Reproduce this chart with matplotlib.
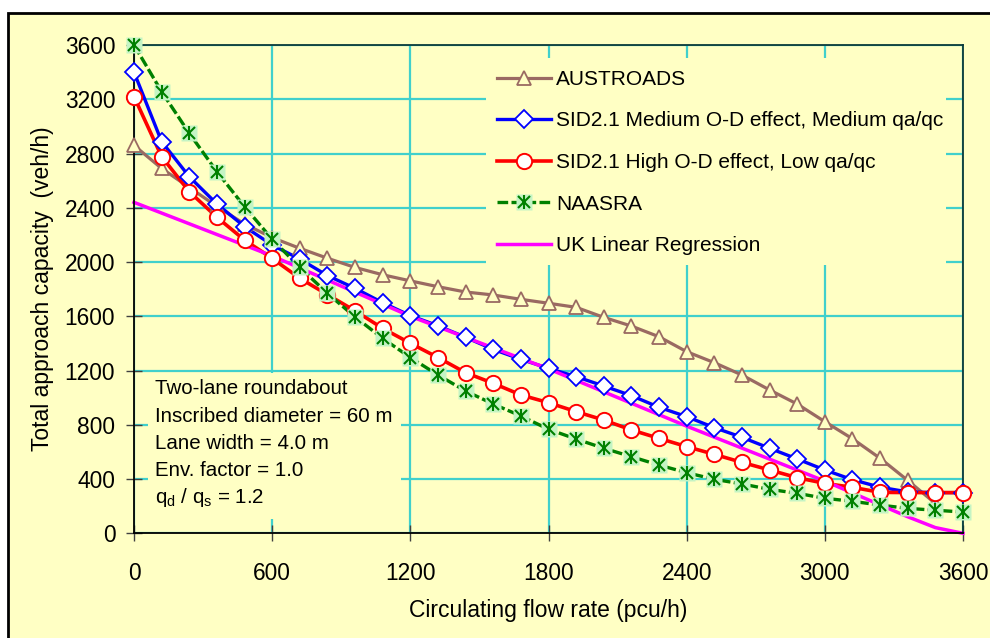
import matplotlib
matplotlib.use("Agg")
import matplotlib.pyplot as plt
from matplotlib.patches import Rectangle
from matplotlib.lines import Line2D

# ---------------- data ----------------
flow = [0, 120, 240, 360, 480, 600, 720, 840, 960, 1080, 1200, 1320, 1440, 1560,
        1680, 1800, 1920, 2040, 2160, 2280, 2400, 2520, 2640, 2760, 2880, 3000,
        3120, 3240, 3360, 3480, 3600]

austroads_x = flow[:30]
austroads = [2860, 2690, 2550, 2410, 2280, 2180, 2101, 2028, 1960, 1906, 1861, 1818,
             1779, 1757, 1725, 1696, 1666, 1592, 1528, 1449, 1339, 1258, 1167, 1057,
             953, 823, 697, 553, 390, 220]

sid_medium = [3400, 2888, 2629, 2428, 2261, 2125, 2022, 1900, 1806, 1700, 1605, 1530,
              1445, 1356, 1283, 1216, 1155, 1086, 1015, 929, 860, 779, 708, 627,
              548, 467, 395, 340, 305, 300, 300]

sid_high = [3220, 2777, 2519, 2330, 2162, 2027, 1880, 1760, 1640, 1511, 1401, 1296,
            1184, 1106, 1020, 963, 897, 835, 762, 700, 639, 582, 523, 467,
            410, 368, 339, 302, 300, 300, 300]

naasra = [3600, 3256, 2949, 2666, 2408, 2168, 1960, 1769, 1595, 1437, 1296, 1167,
          1049, 953, 865, 767, 695, 627, 565, 503, 447, 398, 364, 324,
          295, 258, 236, 208, 184, 170, 157]

uk_x = [0, 600, 1200, 1800, 2400, 3000, 3360, 3480, 3600]
uk = [2440, 2045, 1600, 1212, 790, 385, 122, 42, 0]

labels = ["AUSTROADS", "SID2.1 Medium O-D effect, Medium qa/qc",
          "SID2.1 High O-D effect, Low qa/qc", "NAASRA", "UK Linear Regression"]

note_lines = ["Two-lane roundabout", "Inscribed diameter = 60 m", "Lane width = 4.0 m",
              "Env. factor = 1.0", r"q$_\mathrm{d}$ / q$_\mathrm{s}$ = 1.2"]

xticks = [0, 600, 1200, 1800, 2400, 3000, 3600]
yticks = [0, 400, 800, 1200, 1600, 2000, 2400, 2800, 3200, 3600]

# ---------------- style ----------------
plt.rcParams['font.family'] = ['Liberation Sans', 'DejaVu Sans']
plt.rcParams['mathtext.fontset'] = 'custom'
plt.rcParams['mathtext.rm'] = 'Liberation Sans'
plt.rcParams['mathtext.it'] = 'Liberation Sans:italic'

BG = '#FFFFC4'
GRID = '#40D0CC'
BROWN = '#9A6A62'
BLUE = '#0000FF'
RED = '#FF0000'
GREEN = '#008000'
LGREEN = '#C4F4C4'
MAGENTA = '#FF00FF'

W, H = 990, 638
fig = plt.figure(figsize=(W / 100, H / 100), dpi=100, facecolor='white')

outer = Rectangle((8 / W, -0.2), 1.2, (1 - 13 / H) + 0.2, transform=fig.transFigure,
                  facecolor=BG, edgecolor='black', linewidth=2.0, zorder=-10)
fig.patches.append(outer)

L, R, T, B = 134, 963, 45, 533.3
ax = fig.add_axes([L / W, 1 - B / H, (R - L) / W, (B - T) / H])
ax.set_zorder(1)
ax.set_facecolor(BG)
ax.set_xlim(0, 3600)
ax.set_ylim(0, 3600)
ax.set_xticks(xticks)
ax.set_yticks(yticks)
ax.set_axisbelow(True)
ax.grid(True, color=GRID, linewidth=1.6)

for s in ['left', 'bottom']:
    ax.spines[s].set_color('black')
    ax.spines[s].set_linewidth(1.3)
for s in ['top', 'right']:
    ax.spines[s].set_color('#0A3A3A')
    ax.spines[s].set_linewidth(1.3)

ax.tick_params(axis='both', direction='inout', length=11, width=1.0, color='#404040',
               labelsize=16.4, labelcolor='black')
ax.tick_params(axis='x', pad=15)
ax.tick_params(axis='y', pad=8)

ax.set_xlabel("Circulating flow rate (pcu/h)", fontsize=16.5, labelpad=10)
ax.set_ylabel("Total approach capacity  (veh/h)", fontsize=16.5, labelpad=8)

def pix_box(x0, y0, x1, y1):
    ax.add_patch(Rectangle((x0 / W, 1 - y1 / H), (x1 - x0) / W, (y1 - y0) / H,
                           transform=fig.transFigure, facecolor=BG, edgecolor='none',
                           zorder=1))

pix_box(486, 58, 946, 265)
pix_box(148, 373, 401, 519)

# ---------------- series ----------------
kw = dict(clip_on=False)
ax.plot(austroads_x, austroads, color=BROWN, lw=2.3, zorder=2, **kw)
ax.plot(flow, sid_medium, color=BLUE, lw=2.4, zorder=2, **kw)
ax.plot(flow, sid_high, color=RED, lw=2.6, zorder=2, **kw)
ax.plot(flow, naasra, color=GREEN, lw=2.4, dashes=(3.2, 1.0), zorder=2, **kw)
ax.plot(uk_x, uk, color=MAGENTA, lw=2.5, zorder=2.1, **kw)

ax.plot(austroads_x, austroads, ls='none', marker='^', ms=9.5, mfc=BG, mec=BROWN, mew=1.3, zorder=3, **kw)
ax.plot(flow, sid_medium, ls='none', marker='D', ms=9, mfc='white', mec=BLUE, mew=1.3, zorder=3.1, **kw)
ax.plot(flow, sid_high, ls='none', marker='o', ms=11, mfc='white', mec=RED, mew=1.4, zorder=3.2, **kw)
ax.plot(flow, naasra, ls='none', marker='s', ms=11, mfc=LGREEN, mec='none', zorder=3.3, **kw)
ax.plot(flow, naasra, ls='none', marker='x', ms=8.5, mec=GREEN, mew=1.5, zorder=3.4, **kw)
ax.plot(flow, naasra, ls='none', marker='|', ms=10.5, mec=GREEN, mew=1.5, zorder=3.4, **kw)

h_a = Line2D([], [], color=BROWN, lw=2.3, marker='^', ms=9.5, mfc=BG, mec=BROWN, mew=1.3)
h_b = Line2D([], [], color=BLUE, lw=2.4, marker='D', ms=9, mfc='white', mec=BLUE, mew=1.3)
h_r = Line2D([], [], color=RED, lw=2.6, marker='o', ms=11, mfc='white', mec=RED, mew=1.4)
h_g = (Line2D([], [], color=GREEN, lw=2.4, dashes=(3.2, 1.0), marker='s', ms=11, mfc=LGREEN, mec='none'),
       Line2D([], [], ls='none', marker='x', ms=8.5, mec=GREEN, mew=1.5),
       Line2D([], [], ls='none', marker='|', ms=10.5, mec=GREEN, mew=1.5))
h_m = Line2D([], [], color=MAGENTA, lw=2.5)

leg = ax.legend([h_a, h_b, h_r, h_g, h_m], labels, loc='upper left',
                bbox_to_anchor=(497 / W, 1 - 70 / H), bbox_transform=fig.transFigure,
                frameon=False, fontsize=15, handlelength=2.6, handletextpad=0.25,
                labelspacing=1.08, borderpad=0, borderaxespad=0, numpoints=1)
leg.set_zorder(5)

for i, line in enumerate(note_lines):
    ax.text(155 / W, 1 - (389 + i * 27.2) / H, line, fontsize=14.8, ha='left', va='center',
            transform=fig.transFigure, zorder=5)

fig.savefig("out.png", dpi=100, facecolor='white')
